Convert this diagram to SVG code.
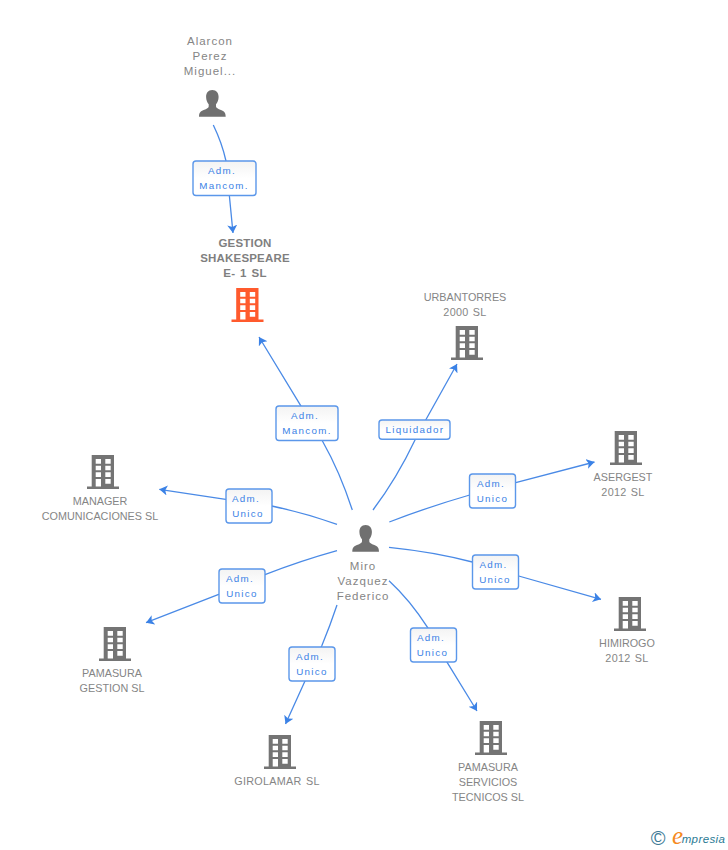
<svg xmlns="http://www.w3.org/2000/svg" width="728" height="850" viewBox="0 0 728 850">
<style>
text{font-family:"Liberation Sans",Arial,sans-serif;font-size:11px;text-anchor:middle}
.n{fill:#858585;font-size:10.8px}
.w{letter-spacing:.3px;word-spacing:1px}
.p{fill:#858585;letter-spacing:1px;font-size:11.5px}
.b{fill:#7f7f7f;font-weight:bold;font-size:11.5px;letter-spacing:.2px;word-spacing:1.5px}
.l{fill:#3b82e6;font-size:9.8px;letter-spacing:1.3px}
.box{fill:url(#g);stroke:#5b97ea;stroke-width:1.4}
.c{fill:none;stroke:#4a8ae6;stroke-width:1.3;marker-end:url(#a)}
</style>
<defs>
<linearGradient id="g" x1="0" y1="0" x2="0" y2="1"><stop offset="0" stop-color="#f3f3f3"/><stop offset=".5" stop-color="#fff"/><stop offset="1" stop-color="#fff"/></linearGradient>
<marker id="a" markerUnits="userSpaceOnUse" markerWidth="12" markerHeight="12" refX="8" refY="5" orient="auto"><path d="M0 0L8 5L0 10L2 5z" fill="#3b82e6"/></marker>
<path id="bld" fill-rule="evenodd" d="M4.700 0H27V31.500H32V34H0V31.500H4.700ZM8.700 4V8.700H14V4ZM18.300 4V8.700H23.700V4ZM8.700 10.700V15.300H14V10.700ZM18.300 10.700V15.300H23.700V10.700ZM8.700 17.300V22H14V17.300ZM18.300 17.300V22H23.700V17.300ZM8.700 24V31.500H14V24ZM18.300 24V28.700H23.700V24Z"/>
<path id="per" d="M13.300 0C17.500 0 19.600 3.200 19.600 7C19.600 10 18.300 12.800 17 14.200V16.500C17 18 19 18.800 22 20C25 21.200 26.700 22.500 26.700 26.700H0C0 22.500 1.700 21.200 4.700 20C7.700 18.800 9.700 18 9.700 16.500V14.200C8.400 12.800 7.100 10 7.100 7C7.100 3.200 9.100 0 13.300 0Z" fill="#707070"/>
</defs>
<g id="connectors">
<path class="c" d="M213.300 125Q222 143 226 161L229.300 195L233 233"/>
<path class="c" d="M352.300 510Q340 472 322.300 440.700L300.700 405.700L259 337"/>
<path class="c" d="M373 510Q397 478 415 440L425.700 420L457 364"/>
<path class="c" d="M389.300 522Q428 507 469.700 495L515.700 482.700L594.500 462"/>
<path class="c" d="M389 547.300Q435 552 472.300 562L518.700 576L601 599.300"/>
<path class="c" d="M389 580.700Q410 600 427.700 627.700L447.300 662.700L477 711"/>
<path class="c" d="M337 605Q330 626 321.700 646L305 681L285.500 724"/>
<path class="c" d="M337 550.700Q300 561 265 574.700L218.700 594.300L146 622.700"/>
<path class="c" d="M337 524.300Q305 513 271.700 506L225.700 499.300L159.300 489.300"/>
</g>
<g id="node-alarcon"><text class="p" x="210" y="45">Alarcon</text><text class="p" x="210" y="60">Perez</text><text class="p" x="210" y="75">Miguel...</text><use href="#per" x="199" y="90"/></g>
<g id="node-gestion"><text class="b" x="245" y="247">GESTION</text><text class="b" x="245" y="262">SHAKESPEARE</text><text class="b" x="245" y="277">E- 1 SL</text><use href="#bld" x="231.500" y="288" fill="#ff5a2d"/></g>
<g id="node-urbantorres"><text class="n" x="465" y="301">URBANTORRES</text><text class="n w" x="465" y="316">2000 SL</text><use href="#bld" x="451" y="326" fill="#747474"/></g>
<g id="node-asergest"><use href="#bld" x="610" y="431" fill="#747474"/><text class="n" x="623" y="481">ASERGEST</text><text class="n w" x="623" y="496">2012 SL</text></g>
<g id="node-himirogo"><use href="#bld" x="614" y="597" fill="#747474"/><text class="n" x="627" y="647">HIMIROGO</text><text class="n w" x="627" y="662">2012 SL</text></g>
<g id="node-servicios"><use href="#bld" x="475" y="721" fill="#747474"/><text class="n" x="488" y="771">PAMASURA</text><text class="n" x="488" y="786">SERVICIOS</text><text class="n" x="488" y="801">TECNICOS SL</text></g>
<g id="node-girolamar"><use href="#bld" x="264" y="735" fill="#747474"/><text class="n w" x="277" y="785">GIROLAMAR SL</text></g>
<g id="node-pgestion"><use href="#bld" x="99" y="627" fill="#747474"/><text class="n" x="112" y="677">PAMASURA</text><text class="n" x="112" y="692">GESTION SL</text></g>
<g id="node-manager"><use href="#bld" x="87" y="455" fill="#747474"/><text class="n" x="100" y="505">MANAGER</text><text class="n" x="100" y="520">COMUNICACIONES SL</text></g>
<g id="node-miro"><use href="#per" x="352.300" y="525"/><text class="p" x="363" y="570">Miro</text><text class="p" x="363" y="585">Vazquez</text><text class="p" x="363" y="600">Federico</text></g>
<g id="label-1"><rect class="box" x="193" y="161" width="63" height="34.500" rx="3"/><text class="l" x="222" y="174">Adm.</text><text class="l" x="224" y="189">Mancom.</text></g>
<g id="label-2"><rect class="box" x="276" y="406" width="62" height="34.500" rx="3"/><text class="l" x="305" y="419">Adm.</text><text class="l" x="307" y="434">Mancom.</text></g>
<g id="label-3"><rect class="box" x="379" y="420" width="71" height="19.300" rx="3"/><text class="l" x="415" y="433">Liquidador</text></g>
<g id="label-4"><rect class="box" x="469.500" y="474" width="46" height="34" rx="3"/><text class="l" x="491" y="487">Adm.</text><text class="l" x="492.500" y="502">Unico</text></g>
<g id="label-5"><rect class="box" x="472.500" y="555" width="46" height="34" rx="3"/><text class="l" x="493.500" y="568">Adm.</text><text class="l" x="495" y="583">Unico</text></g>
<g id="label-6"><rect class="box" x="410.500" y="628" width="46" height="34" rx="3"/><text class="l" x="431" y="641">Adm.</text><text class="l" x="432.500" y="656">Unico</text></g>
<g id="label-7"><rect class="box" x="289" y="647" width="46" height="34" rx="3"/><text class="l" x="310" y="660">Adm.</text><text class="l" x="312" y="675">Unico</text></g>
<g id="label-8"><rect class="box" x="219" y="569" width="46" height="34" rx="3"/><text class="l" x="240" y="582">Adm.</text><text class="l" x="242" y="597">Unico</text></g>
<g id="label-9"><rect class="box" x="226" y="489" width="46" height="34" rx="3"/><text class="l" x="246" y="502">Adm.</text><text class="l" x="248" y="517">Unico</text></g>
<g id="logo"><text x="658" y="845" style="font-size:20px;fill:#3d7a96">©</text><text x="677.500" y="844" style="font-size:25px;fill:#f58a1f;font-style:italic;font-family:'Liberation Serif',serif">e</text><text x="703.500" y="843" style="font-size:11.5px;fill:#2b7a94;font-style:italic;letter-spacing:.4px">mpresia</text></g>
</svg>
